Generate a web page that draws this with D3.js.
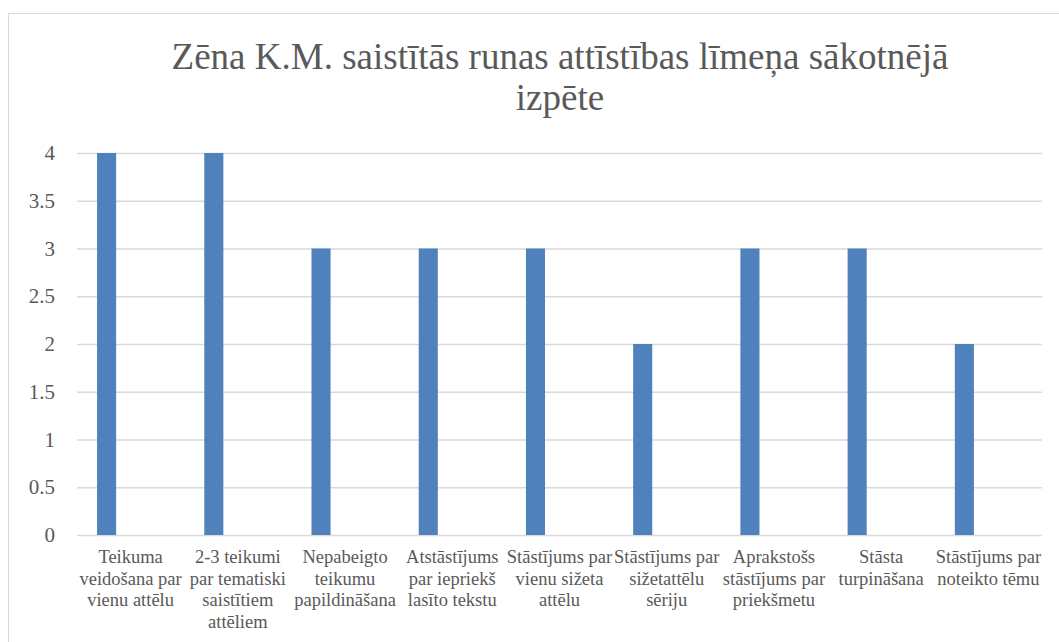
<!DOCTYPE html>
<html><head><meta charset="utf-8">
<script src="https://cdn.jsdelivr.net/npm/d3@7/dist/d3.min.js"></script>
<style>body{margin:0;background:#fff}svg{display:block}svg text{font-family:"Liberation Serif",serif !important}</style>
</head><body><svg id="c" width="1059" height="642"></svg>
<script>
const title = ["Zēna K.M. saistītās runas attīstības līmeņa sākotnējā", "izpēte"];
const categories = [
  "Teikuma\nveidošana par\nvienu attēlu",
  "2-3 teikumi\npar tematiski\nsaistītiem\nattēliem",
  "Nepabeigto\nteikumu\npapildināšana",
  "Atstāstījums\npar iepriekš\nlasīto tekstu",
  "Stāstījums par\nvienu sižeta\nattēlu",
  "Stāstījums par\nsižetattēlu\nsēriju",
  "Aprakstošs\nstāstījums par\npriekšmetu",
  "Stāsta\nturpināšana",
  "Stāstījums par\nnoteikto tēmu"
];
const values = [4, 4, 3, 3, 3, 2, 3, 3, 2];
const yTicks = [0, 0.5, 1, 1.5, 2, 2.5, 3, 3.5, 4];

const FONT = "'Liberation Serif', serif";
const svg = d3.select("#c");
svg.append("rect").attr("x", 8.5).attr("y", 13.5).attr("width", 1100).attr("height", 700)
  .attr("fill", "#fff").attr("stroke", "#d9d9d9");

const pL = 77, pR = 1042, pT = 153, pB = 535;
const x = d3.scaleBand().domain(d3.range(categories.length)).range([pL, pR]).padding(0);
const y = d3.scaleLinear().domain([0, 4]).range([pB, pT]);

const tt = svg.append("text").attr("text-anchor", "middle").style("font-family", FONT)
  .style("font-size", "37px").attr("fill", "#595959");
title.forEach((line, i) => {
  tt.append("tspan").attr("x", 560).attr("y", 69 + i * 41).text(line);
});

const yAxis = svg.append("g").attr("transform", `translate(${pL},0)`)
  .call(d3.axisLeft(y).tickValues(yTicks).tickSize(-(pR - pL)).tickFormat(() => ""));
yAxis.select(".domain").remove();
yAxis.selectAll(".tick line").attr("stroke", "#d9d9d9").attr("stroke-width", 1.3);
yAxis.selectAll(".tick text").remove();

const yl = svg.append("g");
yTicks.forEach(v => {
  const t = yl.append("text").attr("text-anchor", "start").style("font-family", FONT).style("font-size", "21px")
    .attr("fill", "#595959").attr("x", 0).attr("y", y(v) + 7).text(d3.format("")(v));
  const len = t.node().getComputedTextLength();
  t.attr("x", pL - 22 - len);
});

const bw = x.bandwidth();
svg.append("g").selectAll("rect").data(values).join("rect")
  .attr("x", (d, i) => x(i) + bw * 0.187)
  .attr("width", bw * 0.178)
  .attr("y", d => y(d)).attr("height", d => y(0) - y(d))
  .attr("fill", "#4f81bd");

const xl = svg.append("g");
categories.forEach((c, i) => {
  const t = xl.append("text").attr("text-anchor", "middle").style("font-family", FONT)
    .style("font-size", "18.5px").attr("fill", "#595959");
  c.split("\n").forEach((line, j) => {
    t.append("tspan").attr("x", x(i) + bw / 2).attr("y", 563 + j * 21.7).text(line);
  });
});
</script></body></html>
